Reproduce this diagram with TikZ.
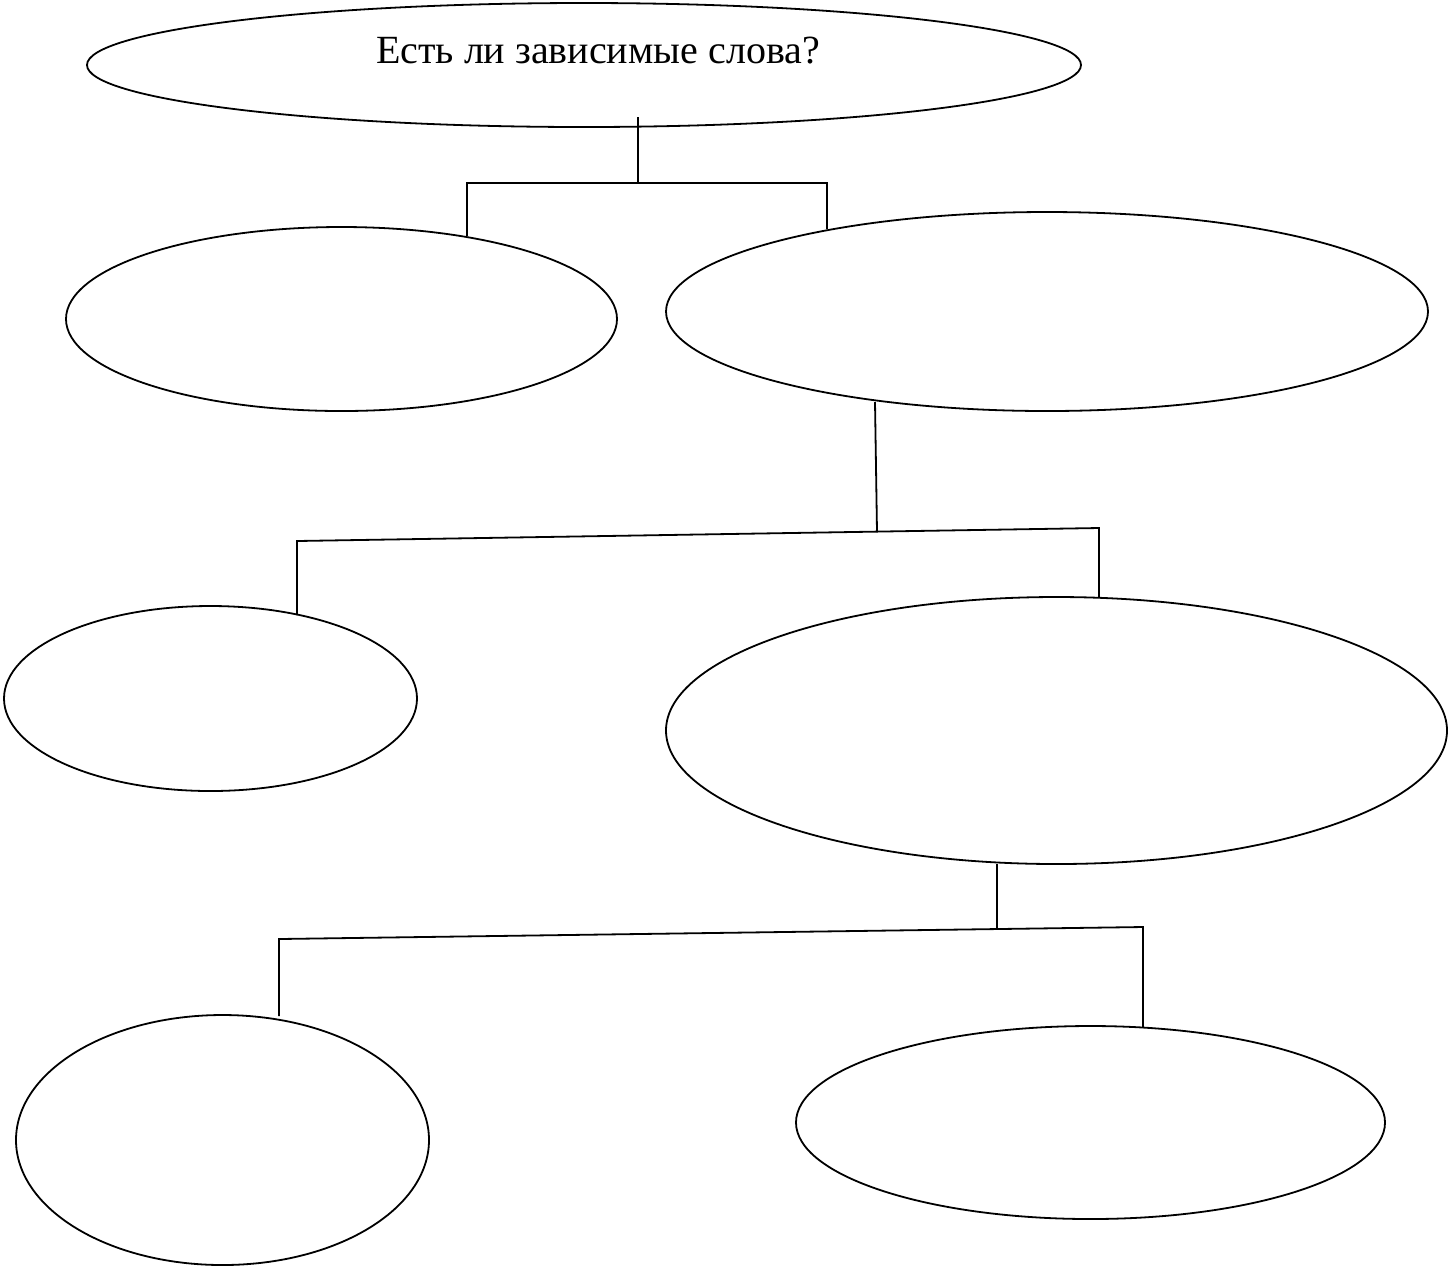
\documentclass[tikz,border=0pt]{standalone}
\usepackage{fontspec}
\setmainfont{Liberation Serif}
\usetikzlibrary{shapes.geometric}
\begin{document}
\begin{tikzpicture}[x=0.5pt,y=-0.5pt,
  oval/.style={draw,ellipse,line width=0.9pt,inner sep=0pt},
  link/.style={draw,line width=0.9pt}]
\useasboundingbox (0,0) rectangle (1449,1271);
% ellipses
\node[oval,minimum width=497pt,minimum height=62pt] (top) at (584,65) {};
\node[font=\fontsize{20pt}{22pt}\selectfont] (toptext) at (598,51) {Есть ли зависимые слова?};
\node[oval,minimum width=275.5pt,minimum height=92pt] (a) at (341.5,319) {};
\node[oval,minimum width=381pt,minimum height=99.5pt] (b) at (1047,311.5) {};
\node[oval,minimum width=206.5pt,minimum height=92.5pt] (c) at (210.5,698.5) {};
\node[oval,minimum width=390.5pt,minimum height=133.5pt] (d) at (1056.5,730.5) {};
\node[oval,minimum width=206.5pt,minimum height=125pt] (e) at (222.5,1140) {};
\node[oval,minimum width=294.5pt,minimum height=96.5pt] (f) at (1090.5,1122.5) {};
% junctions
\coordinate (t0) at (638,117);
\coordinate (j1) at (638,183);
\coordinate (j1l) at (467,183);
\coordinate (j1r) at (827,183);
\coordinate (al) at (467,236);
\coordinate (br) at (827,229);
\coordinate (b0) at (875,402);
\coordinate (j2) at (877,532);
\coordinate (j2l) at (297,541);
\coordinate (j2r) at (1099,528);
\coordinate (ct) at (297,615);
\coordinate (dt) at (1099,597);
\coordinate (d0) at (997,864);
\coordinate (j3) at (997,928);
\coordinate (j3l) at (279,939);
\coordinate (j3r) at (1143,927);
\coordinate (et) at (279,1016);
\coordinate (ft) at (1143,1027);
% connectors
\draw[link] (t0) -- (j1);
\draw[link] (al) -- (j1l) -- (j1r) -- (br);
\draw[link] (b0) -- (j2);
\draw[link] (ct) -- (j2l) -- (j2r) -- (dt);
\draw[link] (d0) -- (j3);
\draw[link] (et) -- (j3l) -- (j3r) -- (ft);
\end{tikzpicture}
\end{document}
